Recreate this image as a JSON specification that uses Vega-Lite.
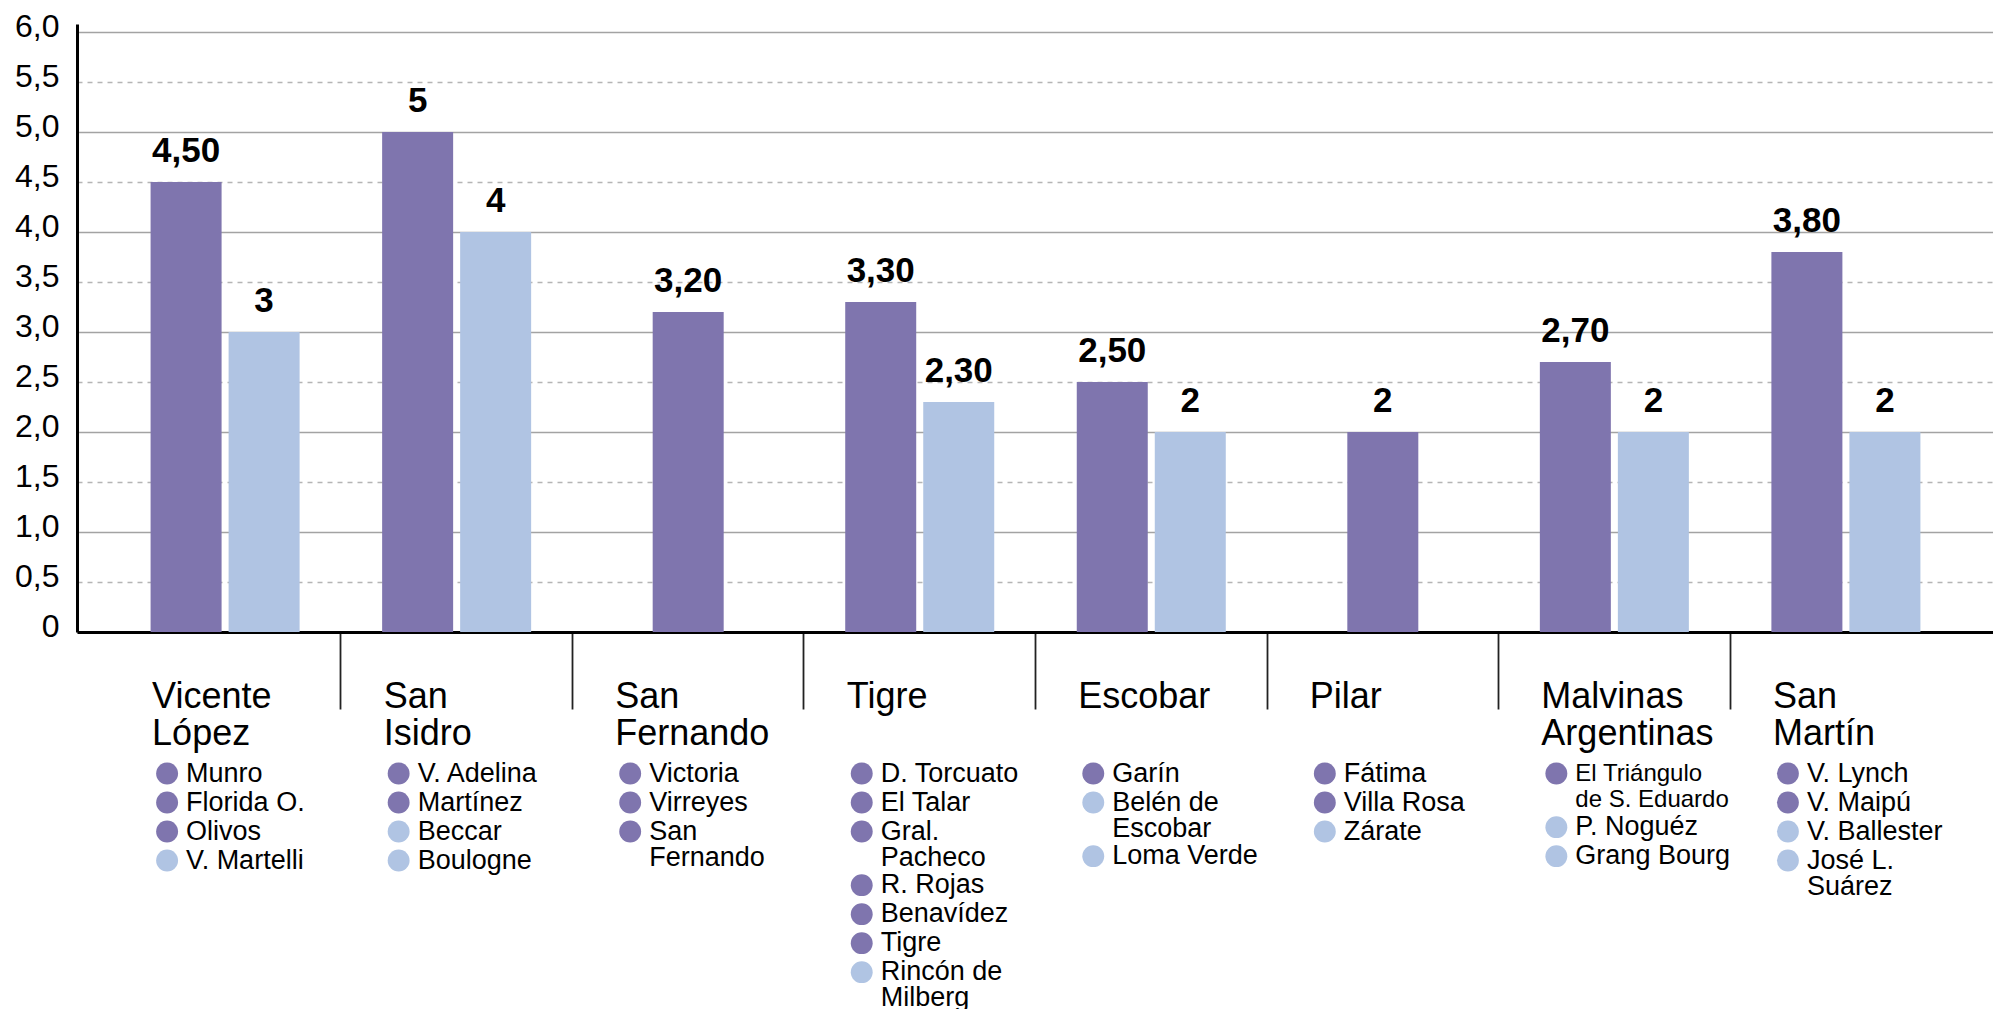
{
  "$schema": "https://vega.github.io/schema/vega-lite/v6.json",
  "background": "white",
  "padding": {"left": 14, "top": 10, "right": 0, "bottom": 0},
  "spacing": 8,
  "config": {
    "view": {"stroke": null},
    "font": "Liberation Sans"
  },
  "datasets": {
    "valores": [
      {"municipio": "Vicente López", "grupo": "Grupo 1", "valor": 4.5},
      {"municipio": "Vicente López", "grupo": "Grupo 2", "valor": 3},
      {"municipio": "San Isidro", "grupo": "Grupo 1", "valor": 5},
      {"municipio": "San Isidro", "grupo": "Grupo 2", "valor": 4},
      {"municipio": "San Fernando", "grupo": "Grupo 1", "valor": 3.2},
      {"municipio": "Tigre", "grupo": "Grupo 1", "valor": 3.3},
      {"municipio": "Tigre", "grupo": "Grupo 2", "valor": 2.3},
      {"municipio": "Escobar", "grupo": "Grupo 1", "valor": 2.5},
      {"municipio": "Escobar", "grupo": "Grupo 2", "valor": 2},
      {"municipio": "Pilar", "grupo": "Grupo 1", "valor": 2},
      {"municipio": "Malvinas Argentinas", "grupo": "Grupo 1", "valor": 2.7},
      {"municipio": "Malvinas Argentinas", "grupo": "Grupo 2", "valor": 2},
      {"municipio": "San Martín", "grupo": "Grupo 1", "valor": 3.8},
      {"municipio": "San Martín", "grupo": "Grupo 2", "valor": 2}
    ],
    "localidades": [
      {"municipio": "Vicente López", "orden": 1, "localidad": "Munro", "grupo": "Grupo 1"},
      {"municipio": "Vicente López", "orden": 2, "localidad": "Florida O.", "grupo": "Grupo 1"},
      {"municipio": "Vicente López", "orden": 3, "localidad": "Olivos", "grupo": "Grupo 1"},
      {"municipio": "Vicente López", "orden": 4, "localidad": "V. Martelli", "grupo": "Grupo 2"},
      {"municipio": "San Isidro", "orden": 1, "localidad": "V. Adelina", "grupo": "Grupo 1"},
      {"municipio": "San Isidro", "orden": 2, "localidad": "Martínez", "grupo": "Grupo 1"},
      {"municipio": "San Isidro", "orden": 3, "localidad": "Beccar", "grupo": "Grupo 2"},
      {"municipio": "San Isidro", "orden": 4, "localidad": "Boulogne", "grupo": "Grupo 2"},
      {"municipio": "San Fernando", "orden": 1, "localidad": "Victoria", "grupo": "Grupo 1"},
      {"municipio": "San Fernando", "orden": 2, "localidad": "Virreyes", "grupo": "Grupo 1"},
      {"municipio": "San Fernando", "orden": 3, "localidad": "San\nFernando", "grupo": "Grupo 1"},
      {"municipio": "Tigre", "orden": 1, "localidad": "D. Torcuato", "grupo": "Grupo 1"},
      {"municipio": "Tigre", "orden": 2, "localidad": "El Talar", "grupo": "Grupo 1"},
      {"municipio": "Tigre", "orden": 3, "localidad": "Gral.\nPacheco", "grupo": "Grupo 1"},
      {"municipio": "Tigre", "orden": 4, "localidad": "R. Rojas", "grupo": "Grupo 1"},
      {"municipio": "Tigre", "orden": 5, "localidad": "Benavídez", "grupo": "Grupo 1"},
      {"municipio": "Tigre", "orden": 6, "localidad": "Tigre", "grupo": "Grupo 1"},
      {"municipio": "Tigre", "orden": 7, "localidad": "Rincón de\nMilberg", "grupo": "Grupo 2"},
      {"municipio": "Escobar", "orden": 1, "localidad": "Garín", "grupo": "Grupo 1"},
      {"municipio": "Escobar", "orden": 2, "localidad": "Belén de\nEscobar", "grupo": "Grupo 2"},
      {"municipio": "Escobar", "orden": 3, "localidad": "Loma Verde", "grupo": "Grupo 2"},
      {"municipio": "Pilar", "orden": 1, "localidad": "Fátima", "grupo": "Grupo 1"},
      {"municipio": "Pilar", "orden": 2, "localidad": "Villa Rosa", "grupo": "Grupo 1"},
      {"municipio": "Pilar", "orden": 3, "localidad": "Zárate", "grupo": "Grupo 2"},
      {"municipio": "Malvinas Argentinas", "orden": 1, "localidad": "El Triángulo\nde S. Eduardo", "grupo": "Grupo 1"},
      {"municipio": "Malvinas Argentinas", "orden": 2, "localidad": "P. Noguéz", "grupo": "Grupo 2"},
      {"municipio": "Malvinas Argentinas", "orden": 3, "localidad": "Grang Bourg", "grupo": "Grupo 2"},
      {"municipio": "San Martín", "orden": 1, "localidad": "V. Lynch", "grupo": "Grupo 1"},
      {"municipio": "San Martín", "orden": 2, "localidad": "V. Maipú", "grupo": "Grupo 1"},
      {"municipio": "San Martín", "orden": 3, "localidad": "V. Ballester", "grupo": "Grupo 2"},
      {"municipio": "San Martín", "orden": 4, "localidad": "José L.\nSuárez", "grupo": "Grupo 2"}
    ]
  },
  "vconcat": [
    {
      "width": 1917,
      "height": 608,
      "data": {"name": "valores"},
      "transform": [
        {"joinaggregate": [{"op": "count", "as": "barras"}], "groupby": ["municipio"]},
        {"calculate": "datum.valor % 1 == 0 ? format(datum.valor, 'd') : replace(format(datum.valor, '.2f'), '.', ',')", "as": "etiqueta"}
      ],
      "encoding": {
        "x": {
          "field": "municipio",
          "type": "nominal",
          "sort": null,
          "scale": {
            "type": "band",
            "domain": ["Vicente López", "San Isidro", "San Fernando", "Tigre", "Escobar", "Pilar", "Malvinas Argentinas", "San Martín"],
            "paddingInner": 0,
            "paddingOuter": 0.1396
          },
          "axis": {
            "title": null,
            "grid": false,
            "bandPosition": 0,
            "domainColor": "black",
            "domainWidth": 3,
            "tickSize": 77,
            "tickWidth": 1.8,
            "tickColor": {"condition": {"test": "datum.value == 'Vicente López'", "value": "transparent"}, "value": "#222222"},
            "labelExpr": "split(datum.label, ' ')",
            "labelAngle": 0,
            "labelAlign": "left",
            "labelBaseline": "top",
            "labelOffset": -73,
            "labelPadding": -30,
            "labelFont": "Liberation Sans",
            "labelFontSize": 36,
            "labelLineHeight": 37,
            "labelColor": "black",
            "labelOverlap": false,
            "labelBound": false,
            "labelLimit": 0
          }
        },
        "y": {
          "field": "valor",
          "type": "quantitative",
          "scale": {"domain": [0, 6.08], "nice": false, "zero": true},
          "axis": {
            "title": null,
            "values": [0, 0.5, 1, 1.5, 2, 2.5, 3, 3.5, 4, 4.5, 5, 5.5, 6],
            "labelExpr": "datum.value == 0 ? '0' : replace(format(datum.value, '.1f'), '.', ',')",
            "ticks": false,
            "labelPadding": 18,
            "labelOffset": -6,
            "labelFont": "Liberation Sans",
            "labelFontSize": 32,
            "labelColor": "black",
            "labelOverlap": false,
            "labelFlush": false,
            "domainColor": "black",
            "domainWidth": 3,
            "grid": true,
            "gridWidth": 1.5,
            "gridColor": {"condition": {"test": "datum.value % 1 != 0", "value": "#b5b5b5"}, "value": "#a3a3a3"},
            "gridDash": {"condition": {"test": "datum.value % 1 != 0", "value": [5, 5]}, "value": []}
          }
        }
      },
      "layer": [
        {
          "transform": [{"filter": "datum.barras == 2"}],
          "mark": {"type": "bar", "size": 71},
          "encoding": {
            "xOffset": {"field": "grupo", "type": "nominal", "scale": {"domain": ["Grupo 1", "Grupo 2"], "paddingInner": 0, "paddingOuter": 0.484}},
            "color": {"field": "grupo", "type": "nominal", "scale": {"domain": ["Grupo 1", "Grupo 2"], "range": ["#7f75ae", "#b0c4e3"]}, "legend": null}
          }
        },
        {
          "transform": [{"filter": "datum.barras == 1"}],
          "mark": {"type": "bar", "size": 71},
          "encoding": {
            "color": {"field": "grupo", "type": "nominal", "scale": {"domain": ["Grupo 1", "Grupo 2"], "range": ["#7f75ae", "#b0c4e3"]}, "legend": null}
          }
        },
        {
          "transform": [{"filter": "datum.barras == 2"}],
          "mark": {"type": "text", "align": "center", "baseline": "alphabetic", "dy": -20, "fontSize": 35, "fontWeight": "bold", "font": "Liberation Sans", "color": "black"},
          "encoding": {
            "xOffset": {"field": "grupo", "type": "nominal", "scale": {"domain": ["Grupo 1", "Grupo 2"], "paddingInner": 0, "paddingOuter": 0.484}},
            "text": {"field": "etiqueta"}
          }
        },
        {
          "transform": [{"filter": "datum.barras == 1"}],
          "mark": {"type": "text", "align": "center", "baseline": "alphabetic", "dy": -20, "fontSize": 35, "fontWeight": "bold", "font": "Liberation Sans", "color": "black"},
          "encoding": {
            "text": {"field": "etiqueta"}
          }
        }
      ]
    },
    {
      "width": 1917,
      "height": 261,
      "data": {"name": "localidades"},
      "transform": [
        {"calculate": "length(split(datum.localidad, '\\n'))", "as": "lineas"},
        {"calculate": "datum.lineas > 1 ? 1.85 : 1", "as": "alto"},
        {"window": [{"op": "sum", "field": "alto", "as": "fin"}], "groupby": ["municipio"], "sort": [{"field": "orden", "order": "ascending"}], "frame": [null, 0]},
        {"calculate": "datum.fin - datum.alto", "as": "fila"}
      ],
      "encoding": {
        "x": {
          "field": "municipio",
          "type": "nominal",
          "sort": null,
          "scale": {
            "type": "band",
            "domain": ["Vicente López", "San Isidro", "San Fernando", "Tigre", "Escobar", "Pilar", "Malvinas Argentinas", "San Martín"],
            "paddingInner": 0,
            "paddingOuter": 0.1396
          },
          "axis": null
        },
        "y": {
          "field": "fila",
          "type": "quantitative",
          "scale": {"domain": [-0.5, 8.5], "reverse": true, "nice": false, "zero": false},
          "axis": null
        }
      },
      "layer": [
        {
          "mark": {"type": "point", "filled": true, "opacity": 1, "size": 480, "xOffset": -58},
          "encoding": {
            "color": {"field": "grupo", "type": "nominal", "scale": {"domain": ["Grupo 1", "Grupo 2"], "range": ["#7f75ae", "#b0c4e3"]}, "legend": null}
          }
        },
        {
          "mark": {"type": "text", "align": "left", "baseline": "middle", "dx": -39, "font": "Liberation Sans", "lineBreak": "\n", "lineHeight": 26, "color": "black"},
          "encoding": {
            "text": {"field": "localidad"},
            "size": {"condition": {"test": "length(datum.localidad) > 20", "value": 24}, "value": 27}
          }
        }
      ]
    }
  ]
}
